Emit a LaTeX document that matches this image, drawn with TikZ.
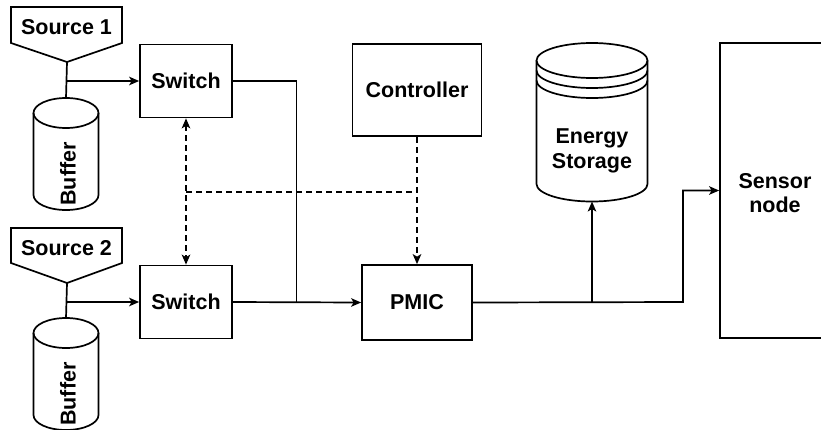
\documentclass[tikz,border=0pt]{standalone}
\usepackage{fontspec}
\setmainfont{Liberation Sans}
\usetikzlibrary{arrows.meta}
\begin{document}
\begin{tikzpicture}[x=1pt,y=-1pt,line width=1.7pt,
  font=\fontsize{21.5}{24.5}\selectfont\bfseries,
  box/.style={draw,inner sep=0pt,align=center},
  lbl/.style={inner sep=0pt,align=center},
  arr/.style={-{Stealth[length=10pt,width=8.5pt,inset=2.5pt]}},
  biarr/.style={{Stealth[length=10pt,width=8.5pt,inset=2.5pt]}-{Stealth[length=10pt,width=8.5pt,inset=2.5pt]}},
  dsh/.style={dash pattern=on 6pt off 4pt}]
\useasboundingbox (0,0) rectangle (821,429);
\clip (0,0) rectangle (821,429);

% sources
\draw[line join=miter] (11,7) -- (122,7) -- (122,43) -- (67,62) -- (11,43) -- cycle;
\node[lbl] (src1) at (66.5,27) {Source 1};
\coordinate (s1tip) at (67,62);
\draw[line join=miter] (11,228) -- (122,228) -- (122,263) -- (67,283) -- (11,263) -- cycle;
\node[lbl] (src2) at (66.5,248) {Source 2};
\coordinate (s2tip) at (67,283);

% buffers
\draw (33.5,113) -- (33.5,195) arc[start angle=180,end angle=360,x radius=32.5pt,y radius=15pt] -- (98.5,113);
\draw (66,113) ellipse [x radius=32.5pt,y radius=15pt];
\coordinate (b1top) at (66,98);
\node[lbl,rotate=90] (buf1) at (68,174) {Buffer};
\draw (33.5,333) -- (33.5,415) arc[start angle=180,end angle=360,x radius=32.5pt,y radius=15pt] -- (98.5,333);
\draw (66,333) ellipse [x radius=32.5pt,y radius=15pt];
\coordinate (b2top) at (66,318);
\node[lbl,rotate=90] (buf2) at (68,394) {Buffer};

% boxes
\node[box,minimum width=92pt,minimum height=73pt] (sw1) at (186,81) {Switch};
\node[box,minimum width=92pt,minimum height=73pt] (sw2) at (186,302) {Switch};
\node[box,minimum width=129pt,minimum height=92pt] (ctrl) at (417,90) {Controller};
\node[box,minimum width=110pt,minimum height=75pt] (pmic) at (417,302.5) {PMIC};
\node[box,minimum width=110pt,minimum height=295pt] (sensor) at (775,190.5) {};
\node[lbl] (sensortxt) at (775,193) {Sensor\\node};

% energy storage cylinder
\draw (536.5,60.5) -- (536.5,184) arc[start angle=180,end angle=360,x radius=55.5pt,y radius=17.5pt] -- (647.5,60.5);
\draw (592,60.5) ellipse [x radius=55.5pt,y radius=17.5pt];
\draw (536.5,70.5) arc[start angle=180,end angle=360,x radius=55.5pt,y radius=17.5pt];
\draw (536.5,80.5) arc[start angle=180,end angle=360,x radius=55.5pt,y radius=17.5pt];
\node[lbl] (es) at (592,151) {Energy\\Storage};
\coordinate (esb) at (592,201.5);

% connectors
\draw (s1tip) -- (b1top);
\draw[arr] (s1tip |- sw1.west) -- (sw1.west);
\draw (s2tip) -- (b2top);
\draw[arr] (s2tip |- sw2.west) -- (sw2.west);

\coordinate (j1) at (296.5,302);
\draw (sw1.east) -| (j1);
\draw[arr] (sw2.east) -- (pmic.west);

\coordinate (d1) at (186,192);
\coordinate (d2) at (417,192);
\draw[dsh,biarr] (sw1.south) -- (sw2.north);
\draw[dsh] (d1) -- (d2);
\draw[dsh,arr] (ctrl.south) -- (pmic.north);

\coordinate (j2) at (592,302);
\coordinate (j3) at (683,302);
\draw[arr] (j2) -- (esb);
\draw[arr] (pmic.east) -- (j3) |- (sensor.west);
\end{tikzpicture}
\end{document}
